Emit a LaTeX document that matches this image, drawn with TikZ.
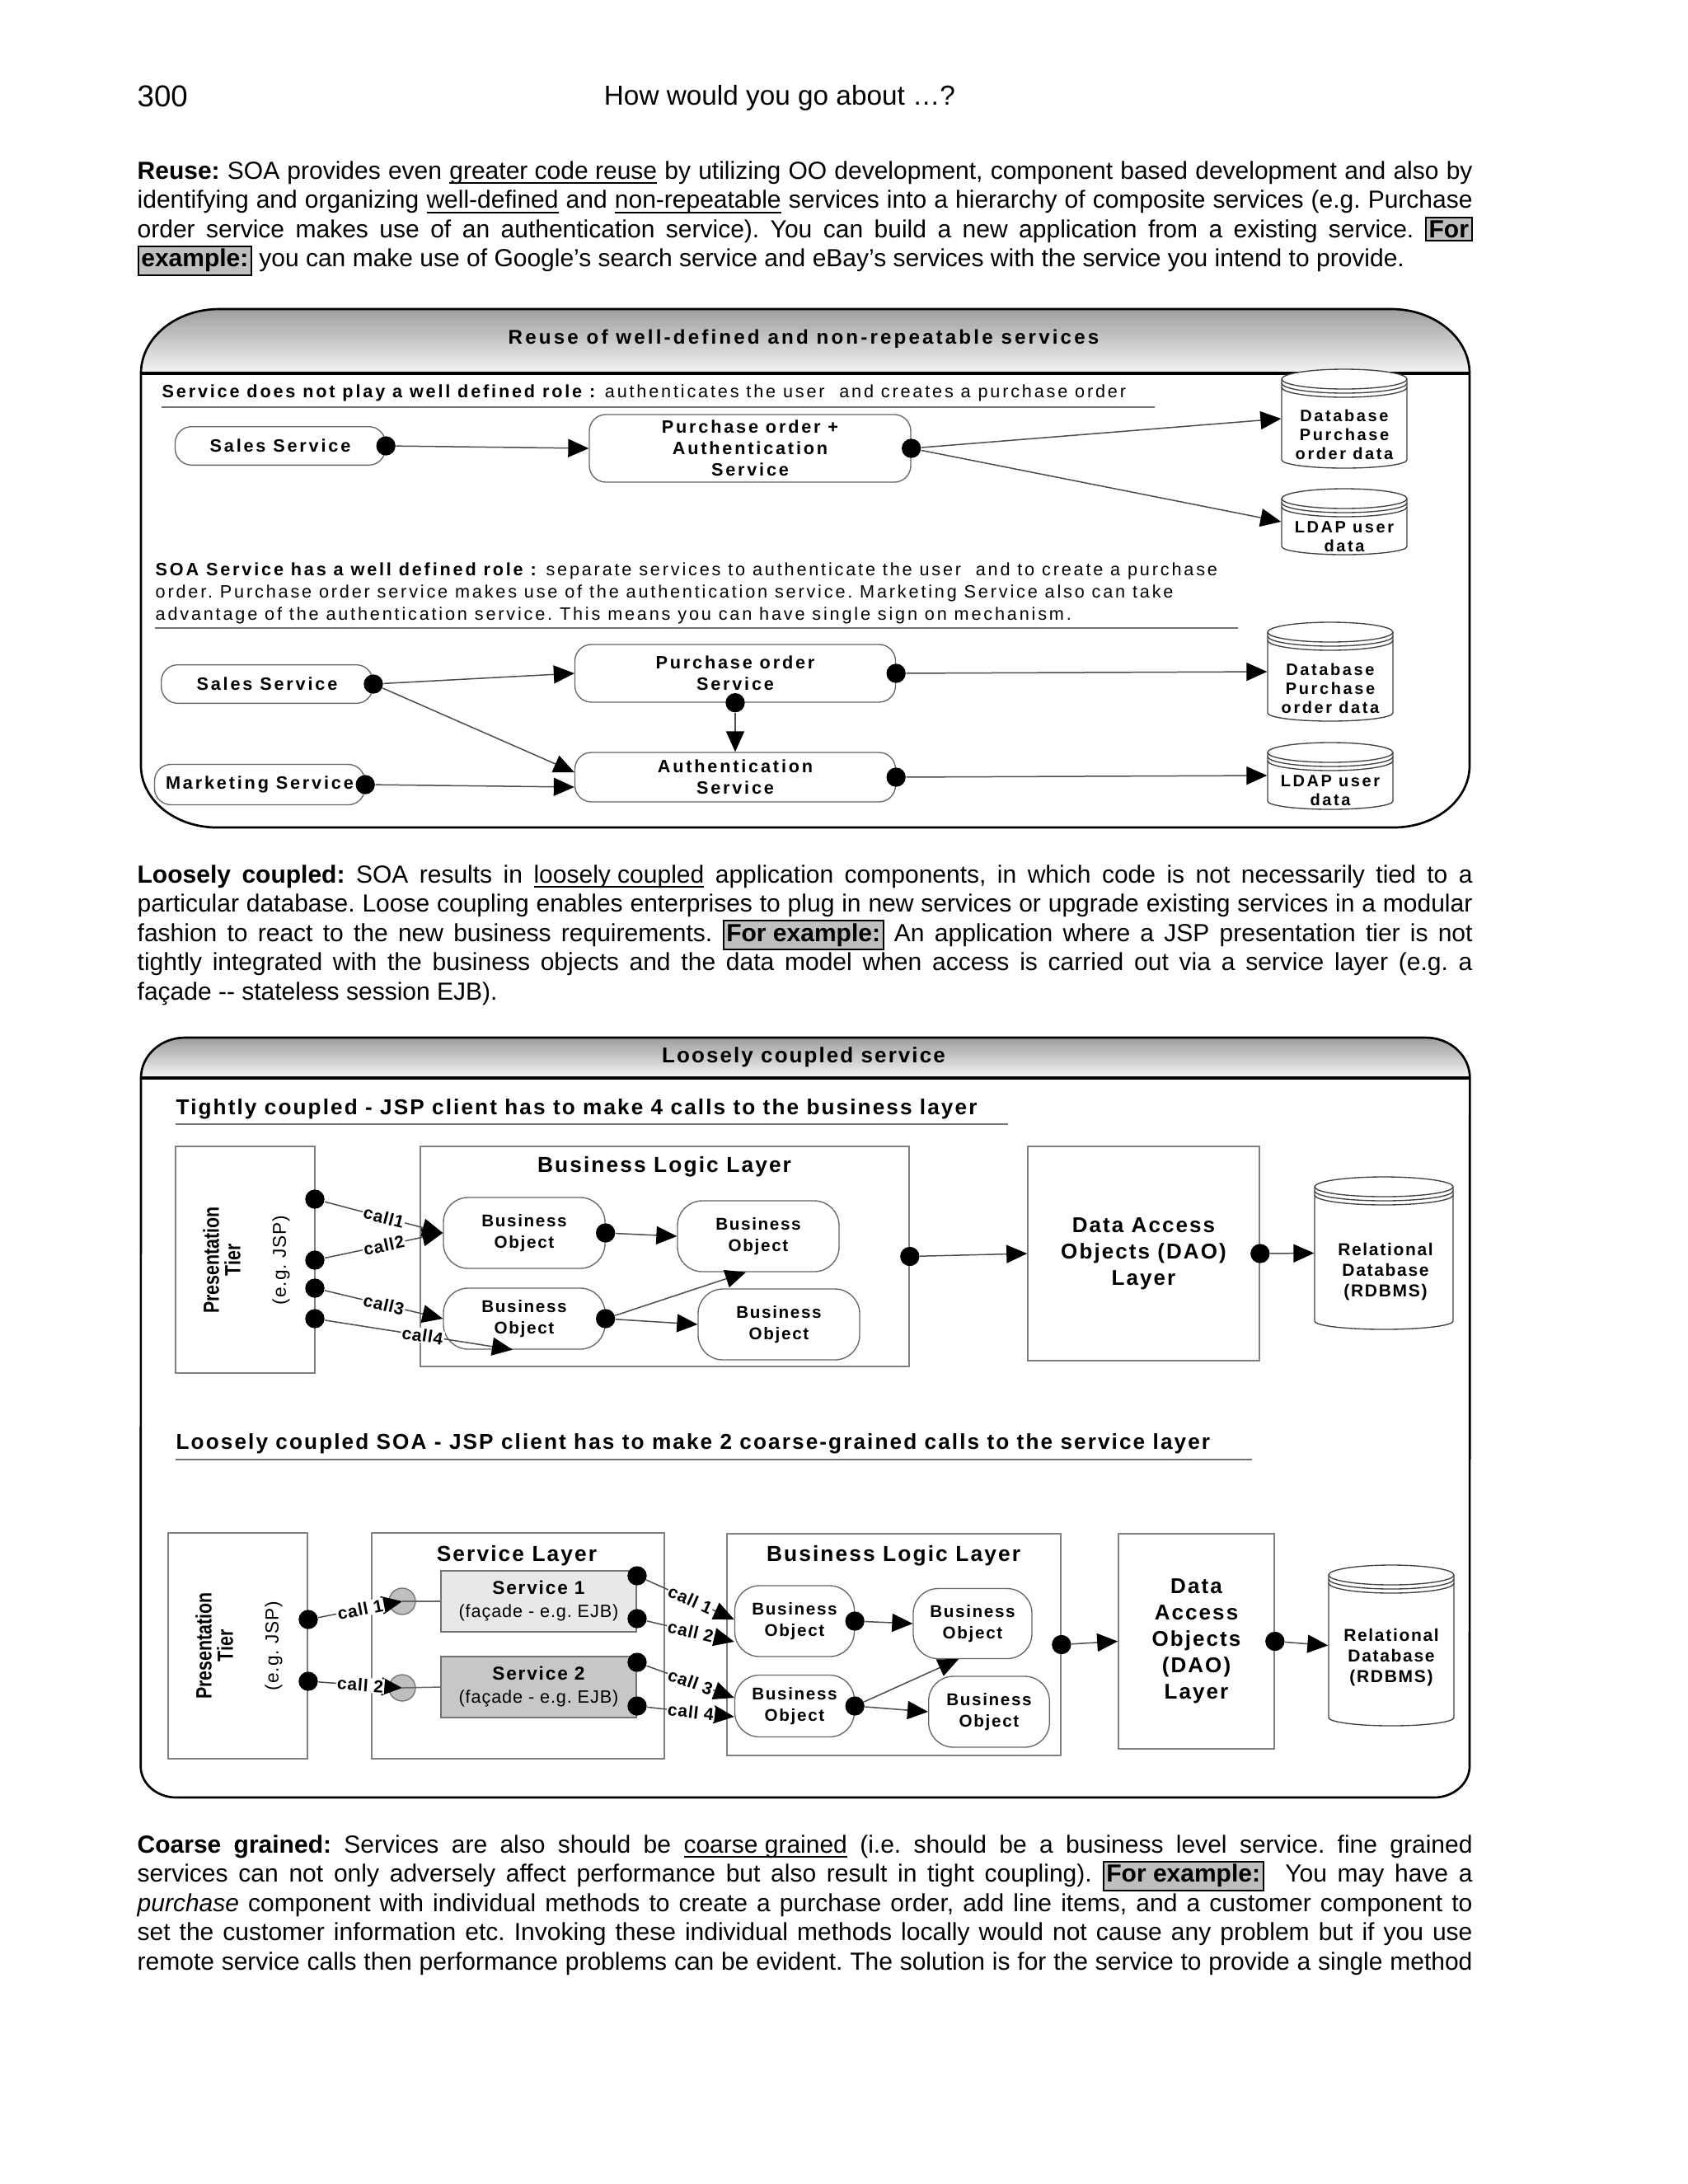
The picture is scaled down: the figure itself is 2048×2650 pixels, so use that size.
\documentclass[tikz,border=0pt]{standalone}
\usepackage{fontspec}
\usepackage{graphicx}
\setmainfont{Liberation Sans}
\newfontfamily\lsA[LetterSpace=13]{Liberation Sans}
\newfontfamily\lsB[LetterSpace=8]{Liberation Sans}
\newfontfamily\lsC[LetterSpace=4]{Liberation Sans}
\usetikzlibrary{arrows.meta,calc}
\frenchspacing

\newcommand\hlbox[1]{\smash{\setlength\fboxsep{0.8pt}\setlength\fboxrule{0.6pt}\fcolorbox{black}{black!25}{\textbf{#1}}}}
\newcommand\jline[1]{\makebox[486pt][s]{#1}}
\newsavebox\ulbox
\newcommand\ulx[1]{\sbox\ulbox{#1}\rlap{\rule[-1.7pt]{\wd\ulbox}{0.55pt}}\usebox\ulbox}
\newcommand\dbcyl[4]{%
  \pgfmathsetmacro\cylrx{(#3-#1)*0.15}%
  \draw[cylline,fill=white] (#1,#2+12) -- (#1,#4-10) arc[start angle=180,end angle=360,x radius=\cylrx pt,y radius=3pt] -- (#3,#2+12) arc[start angle=0,end angle=180,x radius=\cylrx pt,y radius=3.6pt] -- cycle;
  \draw[cylline] (#1,#2+12) arc[start angle=180,end angle=360,x radius=\cylrx pt,y radius=3.6pt];
  \draw[cylline] (#1,#2+17) arc[start angle=180,end angle=360,x radius=\cylrx pt,y radius=3.6pt];
  \draw[cylline] (#1,#2+22) arc[start angle=180,end angle=360,x radius=\cylrx pt,y radius=3.6pt];
}

\tikzset{
  para/.style={anchor=north west, align=left, inner sep=0pt, font=\fontsize{9}{10.65}\selectfont\frenchspacing},
  cylline/.style={draw=black!75, line width=0.4pt},
  cylnode/.style={inner sep=0pt, draw=none},
  conn/.style={draw=black!70, line width=0.45pt, -{Triangle[length=7.5pt,width=6.6pt,color=black]}},
  dotn/.style={circle, fill=black, inner sep=0pt, minimum size=7pt},
  rulel/.style={draw=black!55, line width=0.6pt},
  pill/.style={draw=black!60, line width=0.4pt, fill=white, rounded corners=6pt, align=center, inner sep=0pt, font=\lsA\bfseries\fontsize{6.5}{7.8}\selectfont},
  titleA/.style={font=\lsA\bfseries\fontsize{7.25}{8.4}\selectfont, inner sep=0pt},
  secA/.style={font=\lsA\fontsize{6.5}{8.1}\selectfont\frenchspacing, inner sep=0pt},
  cyltA/.style={align=center, inner sep=0pt, font=\lsA\bfseries\fontsize{6}{6.9}\selectfont},
  titleB/.style={font=\lsB\bfseries\fontsize{7.8}{9}\selectfont, inner sep=0pt},
  secB/.style={font=\lsB\bfseries\fontsize{7.85}{9}\selectfont, inner sep=0pt},
  layt/.style={font=\lsB\bfseries\fontsize{7.9}{9}\selectfont, inner sep=0pt},
  box/.style={draw=black!50, line width=0.5pt, fill=white, inner sep=0pt},
  bo/.style={draw=black!60, line width=0.4pt, fill=white, rounded corners=9pt, align=center, inner sep=0pt, font=\lsB\bfseries\fontsize{6.2}{7.6}\selectfont},
  daot/.style={align=center, font=\lsB\bfseries\fontsize{7.8}{9.6}\selectfont},
  rdbt/.style={align=center, inner sep=0pt, font=\lsB\bfseries\fontsize{6.3}{7.6}\selectfont},
  callL/.style={sloped, fill=white, inner sep=0.4pt, font=\lsC\bfseries\fontsize{6.3}{7}\selectfont},
  pres/.style={rotate=90, align=center, inner sep=0pt, font=\bfseries\fontsize{8}{7.8}\selectfont},
  presb/.style={rotate=90, inner sep=0pt, font=\lsC\fontsize{6.8}{8}\selectfont\frenchspacing},
  svc/.style={draw=black!55, line width=0.5pt, align=center, inner sep=0pt, font=\lsC\fontsize{6.5}{8.4}\selectfont\frenchspacing},
  lolli/.style={circle, draw=black!55, fill=black!25, line width=0.4pt, minimum size=9.6pt, inner sep=0pt}
}

\begin{document}
\begin{tikzpicture}[x=0.3pt,y=-0.3pt]
\useasboundingbox (0,0) rectangle (2048,2650);
\fill[white] (0,0) rectangle (2048,2650);

% ---------- page header ----------
\node[anchor=base west, inner sep=0pt, font=\fontsize{11}{12}\selectfont] (pgno) at (166,129) {300};
\node[anchor=base, inner sep=0pt, font=\fontsize{10}{12}\selectfont] (pgtitle) at (946,127) {How would you go about …?};

% ---------- paragraph 1 ----------
\node[para] (p1) at (166,195) {%
\jline{\textbf{Reuse:} SOA provides even \ulx{greater code reuse} by utilizing OO development, component based development and also by}\\
\jline{identifying and organizing \ulx{well-defined} and \ulx{non-repeatable} services into a hierarchy of composite services (e.g. Purchase}\\
\jline{order service makes use of an authentication service). You can build a new application from a existing service. \hlbox{For}}\\
\hlbox{example:} you can make use of Google’s search service and eBay’s services with the service you intend to provide.};

% ---------- figure 1 frame ----------
\fill[top color=black!38, bottom color=black!4] (171,453) arc[start angle=180,end angle=90,x radius=28.5pt,y radius=23.4pt] -- (1688,375) arc[start angle=90,end angle=0,x radius=28.5pt,y radius=23.4pt] -- cycle;
\draw[line width=1.1pt] (171,453) -- (1783,453);
\draw[line width=0.8pt] (171,453) arc[start angle=180,end angle=90,x radius=28.5pt,y radius=23.4pt] -- (1688,375) arc[start angle=90,end angle=0,x radius=28.5pt,y radius=23.4pt] -- (1783,929) arc[start angle=0,end angle=-90,x radius=27.6pt,y radius=22.5pt] -- (263,1004) arc[start angle=270,end angle=180,x radius=27.6pt,y radius=22.5pt] -- cycle;
\node[titleA] (t1) at (975,411) {Reuse of well-defined and non-repeatable services};

% section 1
\node[secA, anchor=base west] (s1) at (196,482) {\textbf{Service does not play a well defined role :} authenticates the user\ \ and creates a purchase order};
\draw[rulel] (196,494) -- (1401,494);
\node[pill, minimum width=76.5pt, minimum height=14pt] (ss1) at (340,541) {Sales Service};
\node[pill, minimum width=117pt, minimum height=24.6pt] (po1) at (910,544) {Purchase order +\\Authentication\\Service};
\dbcyl{1555}{448}{1707}{568}
\node[cylnode, minimum width=45.6pt, minimum height=36pt] (db1) at (1631,508) {};
\node[cyltA] (db1t) at (1631,527) {Database\\Purchase\\order data};
\dbcyl{1555}{593}{1707}{673}
\node[cylnode, minimum width=45.6pt, minimum height=24pt] (ldap1) at (1631,633) {};
\node[cyltA] (ldap1t) at (1631,651) {LDAP user\\data};
\node[dotn] (dss1) at (ss1.east) {};
\node[dotn] (dpo1) at (po1.east) {};
\draw[conn] (dss1) -- (po1.west);
\draw[conn] (dpo1) -- (db1.west);
\draw[conn] (dpo1) -- (ldap1.west);

% section 2
\node[secA, anchor=north west, align=left] (s2) at (188,682) {\textbf{SOA Service has a well defined role :} separate services to authenticate the user\ \ and to create a purchase\\order. Purchase order service makes use of the authentication service. Marketing Service also can take\\advantage of the authentication service. This means you can have single sign on mechanism.};
\draw[rulel] (188,762) -- (1502,762);
\node[pill, minimum width=77pt, minimum height=14pt] (ss2) at (324,830) {Sales Service};
\node[pill, minimum width=76.5pt, minimum height=14.7pt] (mk2) at (315,952) {Marketing Service};
\node[pill, minimum width=116.7pt, minimum height=21pt] (po2) at (892,817) {Purchase order\\Service};
\node[pill, minimum width=116.7pt, minimum height=18pt] (au2) at (892,943) {Authentication\\Service};
\dbcyl{1538}{755}{1690}{875}
\node[cylnode, minimum width=45.6pt, minimum height=36pt] (db2) at (1614,815) {};
\node[cyltA] (db2t) at (1614,835) {Database\\Purchase\\order data};
\dbcyl{1538}{901}{1690}{982}
\node[cylnode, minimum width=45.6pt, minimum height=24pt] (ldap2) at (1614,941) {};
\node[cyltA] (ldap2t) at (1614,959) {LDAP user\\data};
\node[dotn] (dss2) at (ss2.east) {};
\node[dotn] (dmk2) at (mk2.east) {};
\node[dotn] (dpo2r) at (po2.east) {};
\node[dotn] (dpo2b) at (po2.south) {};
\node[dotn] (dau2) at (au2.east) {};
\draw[conn] (dss2) -- (po2.west);
\draw[conn] (dss2) -- ([yshift=1.8pt]au2.west);
\draw[conn] (dmk2) -- ([yshift=-3.6pt]au2.west);
\draw[conn] (dpo2b) -- (au2.north);
\draw[conn] (dpo2r) -- (db2.west);
\draw[conn] (dau2) -- (ldap2.west);

% ---------- paragraph 2 ----------
\node[para] (p2) at (166,1049) {%
\jline{\textbf{Loosely coupled:} SOA results in \ulx{loosely coupled} application components, in which code is not necessarily tied to a}\\
\jline{particular database. Loose coupling enables enterprises to plug in new services or upgrade existing services in a modular}\\
\jline{fashion to react to the new business requirements. \hlbox{For example:} An application where a JSP presentation tier is not}\\
\jline{tightly integrated with the business objects and the data model when access is carried out via a service layer (e.g. a}\\
façade -{}- stateless session EJB).};

% ---------- figure 2 frame ----------
\fill[top color=black!38, bottom color=black!4] (171,1308) arc[start angle=180,end angle=90,x radius=16pt,y radius=14.7pt] -- (1730,1259) arc[start angle=90,end angle=0,x radius=16pt,y radius=14.7pt] -- cycle;
\draw[line width=1.1pt] (171,1308) -- (1783,1308);
\draw[line width=0.8pt] (171,1308) arc[start angle=180,end angle=90,x radius=16pt,y radius=14.7pt] -- (1730,1259) arc[start angle=90,end angle=0,x radius=16pt,y radius=14.7pt] -- (1783,2143) arc[start angle=0,end angle=-90,x radius=13pt,y radius=11.4pt] -- (214,2181) arc[start angle=270,end angle=180,x radius=13pt,y radius=11.4pt] -- cycle;
\node[titleB] (t2) at (975,1283) {Loosely coupled service};

% tightly coupled part
\node[secB, anchor=base west] (s3) at (213,1352) {Tightly coupled - JSP client has to make 4 calls to the business layer};
\draw[rulel] (213,1364) -- (1223,1364);
\node[box, minimum width=50.7pt, minimum height=82.5pt] (pt1) at (297.5,1528.5) {};
\node[pres] (pt1a) at (269,1529) {\scalebox{0.8}[1]{Presentation}\\\scalebox{0.8}[1]{Tier}};
\node[presb] (pt1b) at (341,1529) {(e.g. JSP)};
\node[box, minimum width=177.9pt, minimum height=80.1pt] (bll1) at (806.5,1524.5) {};
\node[layt] (bll1t) at (806,1416) {Business Logic Layer};
\node[bo, minimum width=58.8pt, minimum height=25.8pt] (bo1) at (636,1496) {Business\\Object};
\node[bo, minimum width=58.8pt, minimum height=25.8pt] (bo2) at (920,1500) {Business\\Object};
\node[bo, minimum width=58.8pt, minimum height=22.2pt] (bo3) at (636,1600) {Business\\Object};
\node[bo, minimum width=58.8pt, minimum height=25.8pt] (bo4) at (945,1607) {Business\\Object};
\node[box, minimum width=84.3pt, minimum height=78pt, daot] (dao1) at (1387.5,1521) {Data Access\\Objects (DAO)\\Layer};
\dbcyl{1595}{1428}{1763}{1613}
\node[cylnode, minimum width=50.4pt, minimum height=55.5pt] (rdb1) at (1679,1520.5) {};
\node[rdbt] (rdb1t) at (1681,1543) {Relational\\Database\\(RDBMS)};
\node[dotn] (c1) at (382,1455) {};
\node[dotn] (c2) at (382,1529) {};
\node[dotn] (c3) at (382,1563) {};
\node[dotn] (c4) at (382,1600) {};
\node[dotn] (dbo1) at (bo1.east) {};
\node[dotn] (dbo3) at (bo3.east) {};
\node[dotn] (dbll1) at (bll1.east) {};
\node[dotn] (ddao1) at (dao1.east) {};
\draw[conn] (c1) -- node[callL] {call1} (bo1.west);
\draw[conn] (c2) -- node[callL] {call2} (bo1.west);
\draw[conn] (c3) -- node[callL] {call3} (bo3.west);
\draw[conn] (c4) -- node[callL, pos=0.52] {call4} ([xshift=-4.2pt]bo3.south);
\draw[conn] (dbo1) -- (bo2.west);
\draw[conn] (dbo3) -- ([xshift=-4.5pt]bo2.south);
\draw[conn] (dbo3) -- (bo4.west);
\draw[conn] (dbll1) -- (dao1.west);
\draw[conn] (ddao1) -- (rdb1.west);

% loosely coupled part
\node[secB, anchor=base west] (s4) at (213,1758) {Loosely coupled SOA - JSP client has to make 2 coarse-grained calls to the service layer};
\draw[rulel] (213,1771) -- (1519,1771);
\node[box, minimum width=50.7pt, minimum height=82.2pt] (pt2) at (288.5,1997) {};
\node[pres] (pt2a) at (260,1997) {\scalebox{0.8}[1]{Presentation}\\\scalebox{0.8}[1]{Tier}};
\node[presb] (pt2b) at (332,1997) {(e.g. JSP)};
\node[box, minimum width=106.5pt, minimum height=82.2pt] (sl) at (628.5,1997) {};
\node[layt] (slt) at (627,1888) {Service Layer};
\node[svc, fill=black!9, minimum width=71.1pt, minimum height=22.2pt] (svc1) at (653.5,1943) {{\lsB\bfseries\fontsize{6.8}{8.4}\selectfont Service 1}\\(façade - e.g. EJB)};
\node[svc, fill=black!22, minimum width=71.1pt, minimum height=22.2pt] (svc2) at (653.5,2047) {{\lsB\bfseries\fontsize{6.8}{8.4}\selectfont Service 2}\\(façade - e.g. EJB)};
\node[lolli] (li1) at (488,1943) {};
\node[lolli] (li2) at (488,2048) {};
\draw[draw=black!60, line width=0.45pt] (li1.center) -- (svc1.west);
\draw[draw=black!60, line width=0.45pt] (li2.center) -- (svc2.west);
\node[box, minimum width=121.5pt, minimum height=80.7pt] (bll2) at (1084.5,1995.5) {};
\node[layt] (bll2t) at (1084,1888) {Business Logic Layer};
\node[bo, minimum width=43.5pt, minimum height=25.8pt] (bob1) at (964,1967) {Business\\Object};
\node[bo, minimum width=43.2pt, minimum height=25.5pt] (bob2) at (1180,1970) {Business\\Object};
\node[bo, minimum width=43.5pt, minimum height=22.5pt] (bob3) at (964,2070) {Business\\Object};
\node[bo, minimum width=44pt, minimum height=25.8pt] (bob4) at (1200,2077) {Business\\Object};
\node[box, minimum width=56.7pt, minimum height=78.3pt, daot] (dao2) at (1451.5,1991.5) {Data\\Access\\Objects\\(DAO)\\Layer};
\dbcyl{1612}{1899}{1764}{2094}
\node[cylnode, minimum width=45.6pt, minimum height=58.5pt] (rdb2) at (1688,1996.5) {};
\node[rdbt] (rdb2t) at (1688,2011) {Relational\\Database\\(RDBMS)};
\node[dotn] (e1) at (374,1965) {};
\node[dotn] (e2) at (374,2040) {};
\node[dotn] (f1) at (773,1912) {};
\node[dotn] (f2) at (773,1964) {};
\node[dotn] (f3) at (773,2017) {};
\node[dotn] (f4) at (773,2070) {};
\node[dotn] (dbob1) at (bob1.east) {};
\node[dotn] (dbob3) at (bob3.east) {};
\node[dotn] (dbll2) at (bll2.east) {};
\node[dotn] (ddao2) at (dao2.east) {};
\draw[conn] (e1) -- node[callL] {call 1} (li1.center);
\draw[conn] (e2) -- node[callL] {call 2} (li2.center);
\draw[conn] (f1) -- node[callL] {call 1} ([yshift=0.6pt]bob1.west);
\draw[conn] (f2) -- node[callL] {call 2} ([yshift=-7.5pt]bob1.west);
\draw[conn] (f3) -- node[callL] {call 3} ([yshift=3pt]bob3.west);
\draw[conn] (f4) -- node[callL] {call 4} ([yshift=-3.9pt]bob3.west);
\draw[conn] (dbob1) -- (bob2.west);
\draw[conn] (dbob3) -- ([xshift=-5.1pt]bob2.south);
\draw[conn] (dbob3) -- (bob4.west);
\draw[conn] (dbll2) -- (dao2.west);
\draw[conn] (ddao2) -- (rdb2.west);

% ---------- paragraph 3 ----------
\node[para] (p3) at (166,2226) {%
\jline{\textbf{Coarse grained:} Services are also should be \ulx{coarse grained} (i.e. should be a business level service. fine grained}\\
\jline{services can not only adversely affect performance but also result in tight coupling). \hlbox{For example:}\ \ You may have a}\\
\jline{\textit{purchase} component with individual methods to create a purchase order, add line items, and a customer component to}\\
\jline{set the customer information etc. Invoking these individual methods locally would not cause any problem but if you use}\\
\jline{remote service calls then performance problems can be evident. The solution is for the service to provide a single method}};
\end{tikzpicture}
\end{document}
